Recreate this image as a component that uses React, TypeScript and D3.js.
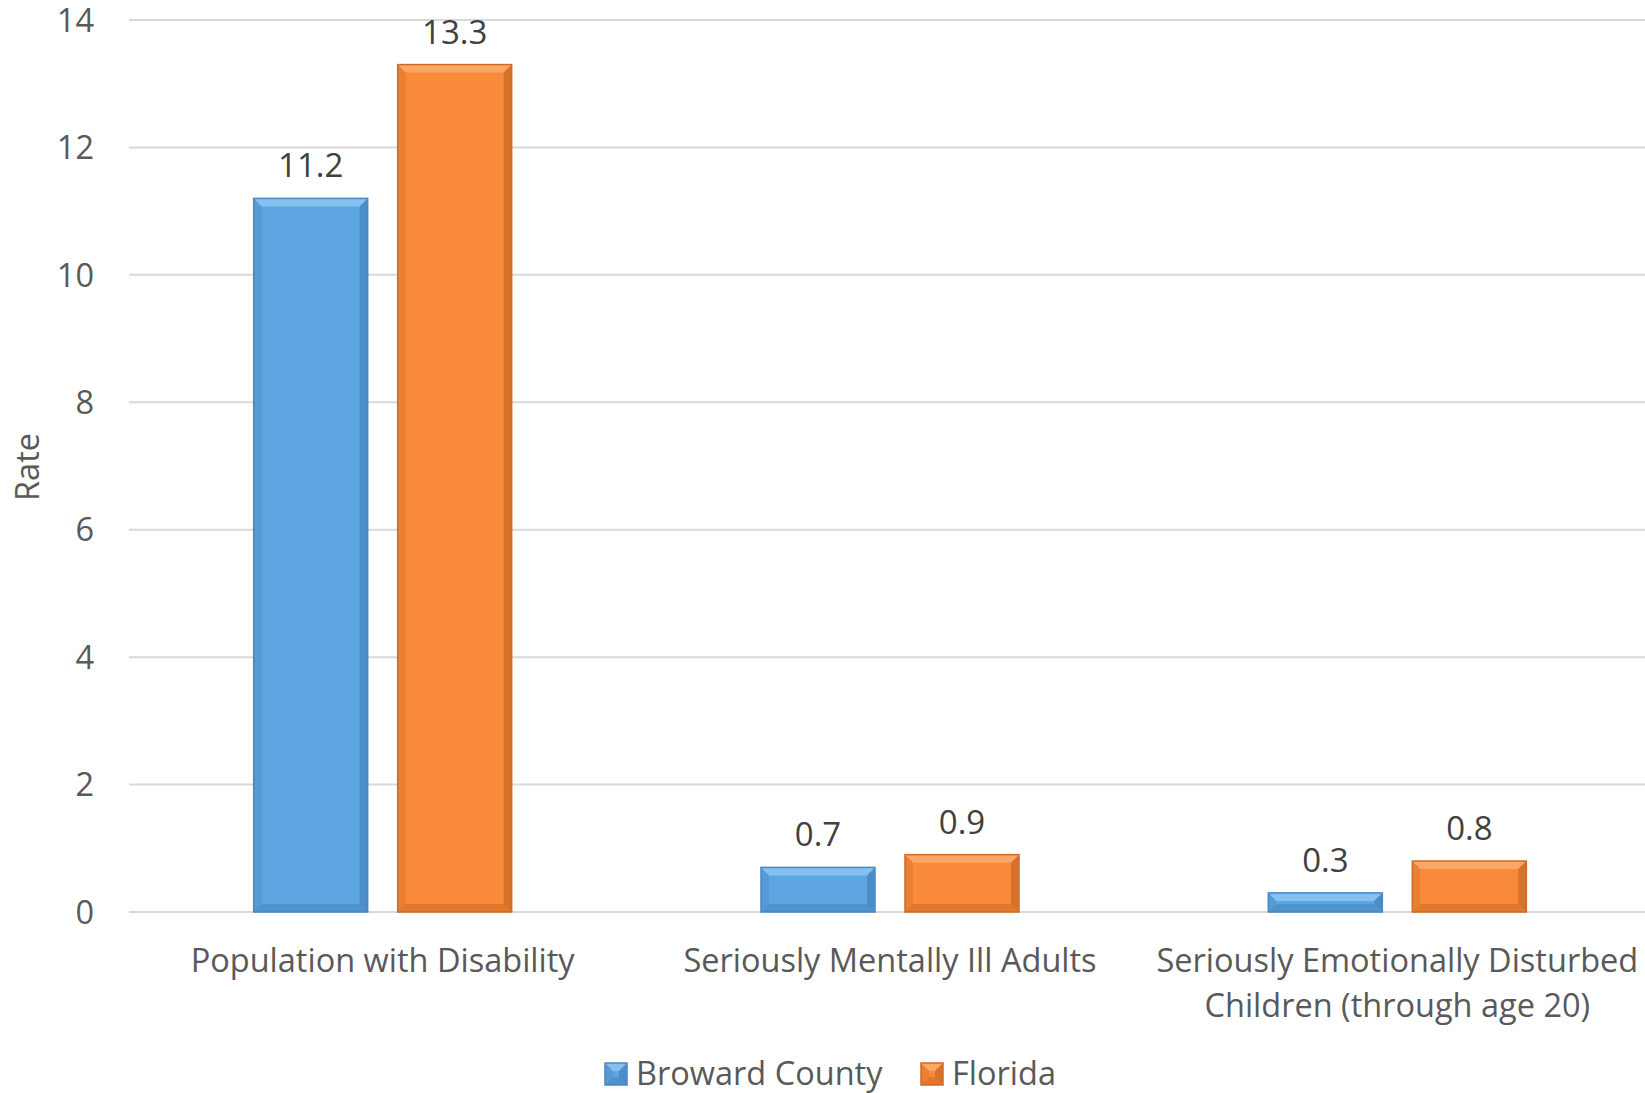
import React from "react";
import * as d3 from "d3";

const categories = [
  ["Population with Disability"],
  ["Seriously Mentally Ill Adults"],
  ["Seriously Emotionally Disturbed", "Children (through age 20)"],
];
const seriesNames = ["Broward County", "Florida"];
const broward = [11.2, 0.7, 0.3];
const florida = [13.3, 0.9, 0.8];
const yTicks = [0, 2, 4, 6, 8, 10, 12, 14];

const W = 1645;
const H = 1093;
const FONT = "'Open Sans', 'Noto Sans', sans-serif";
const TEXT = "#595959";
const FS = 32.5;
const colors = [
  { base: "#5EA6E2", light: "#86C0EE", dark: "#3F7DB5", edge: "#4A87C0" },
  { base: "#F98A3A", light: "#FBA866", dark: "#C0621F", edge: "#D06A25" },
];

function Bar({ x, y, w, h, c }: any) {
  const b = Math.min(8, h / 2, w / 2);
  return (
    <g>
      <rect x={x} y={y} width={w} height={h} fill={c.base} />
      <polygon points={`${x},${y} ${x + w},${y} ${x + w - b},${y + b} ${x + b},${y + b}`} fill={c.light} />
      <polygon points={`${x},${y} ${x + b},${y + b} ${x + b},${y + h - b} ${x},${y + h}`} fill={c.dark} opacity={0.25} />
      <polygon points={`${x + w},${y} ${x + w},${y + h} ${x + w - b},${y + h - b} ${x + w - b},${y + b}`} fill={c.dark} opacity={0.6} />
      <polygon points={`${x},${y + h} ${x + w},${y + h} ${x + w - b},${y + h - b} ${x + b},${y + h - b}`} fill={c.dark} opacity={0.45} />
      <rect x={x} y={y} width={w} height={h} fill="none" stroke={c.edge} strokeWidth={1.5} />
    </g>
  );
}

export default function App() {
  const x0 = d3.scaleBand<number>().domain([0, 1, 2]).range([129, 1651]).paddingInner(0).paddingOuter(0);
  const y = d3.scaleLinear().domain([0, 14]).range([912, 20]);
  const barW = 114;
  const gap = 30;
  const series = [broward, florida];

  return (
    <svg width={W} height={H} style={{ position: "absolute", left: 0, top: 0, background: "#fff" }} fontFamily={FONT}>
      <rect width={W} height={H} fill="#fff" />
      {yTicks.map((t) => (
        <g key={t}>
          <line x1={129} x2={W} y1={y(t)} y2={y(t)} stroke="#D9D9D9" strokeWidth={2} />
          <text x={94} y={y(t)} dy="0.36em" textAnchor="end" fontSize={FS} fill={TEXT}>
            {t}
          </text>
        </g>
      ))}
      <text transform={`translate(39,467) rotate(-90)`} textAnchor="middle" fontSize={FS} fill={TEXT}>
        Rate
      </text>
      {categories.map((_, i) => {
        const cx = (x0(i) as number) + x0.bandwidth() / 2;
        return series.map((s, si) => {
          const bx = si === 0 ? cx - gap / 2 - barW : cx + gap / 2;
          const top = y(s[i]);
          return (
            <g key={`${i}-${si}`}>
              <Bar x={bx} y={top} w={barW} h={y(0) - top} c={colors[si]} />
              <text x={bx + barW / 2} y={top - 21} textAnchor="middle" fontSize={33} fill="#404040">
                {s[i]}
              </text>
            </g>
          );
        });
      })}
      {categories.map((lines, i) => {
        const cx = (x0(i) as number) + x0.bandwidth() / 2;
        return (
          <text key={i} x={cx} y={972} textAnchor="middle" fontSize={FS} fill={TEXT}>
            {lines.map((l, li) => (
              <tspan key={li} x={cx} dy={li === 0 ? 0 : 45}>
                {l}
              </tspan>
            ))}
          </text>
        );
      })}
      {seriesNames.map((n, i) => {
        const lx = i === 0 ? 605 : 921;
        return (
          <g key={n}>
            <Bar x={lx} y={1063} w={22} h={22} c={colors[i]} />
            <text x={lx + 31} y={1085} fontSize={FS} fill={TEXT}>
              {n}
            </text>
          </g>
        );
      })}
    </svg>
  );
}
